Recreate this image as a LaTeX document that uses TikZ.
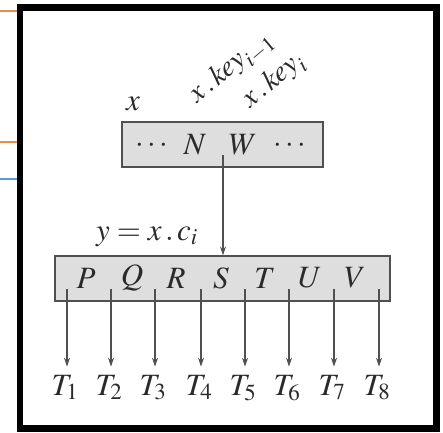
\documentclass[tikz,border=0pt]{standalone}
\usepackage{mathptmx}
\usetikzlibrary{arrows.meta}
\definecolor{boxfill}{HTML}{DEDEDE}
\definecolor{boxline}{HTML}{505050}
\definecolor{inkc}{HTML}{2A2A2A}
\definecolor{orangeln}{HTML}{F08A3C}
\definecolor{blueln}{HTML}{5B9BD5}
\tikzset{
  keybox/.style={draw=boxline, fill=boxfill, line width=1.3pt, inner sep=0pt, minimum height=45pt},
  lbl/.style={inner sep=0pt, text=inkc, font=\fontsize{31}{36}\selectfont},
  rlbl/.style={lbl, font=\fontsize{29}{34}\selectfont, anchor=base west, rotate=40},
  ptr/.style={draw=boxline, line width=1.2pt, -{Stealth[length=9pt,width=6pt]}},
}
\begin{document}
\begin{tikzpicture}[x=1pt,y=-1pt]
\useasboundingbox (0,0) rectangle (443,432);
\fill[white] (0,0) rectangle (443,432);
% side marks
\draw[orangeln, line width=1.6pt] (0,11) -- (17,11);
\draw[orangeln, line width=1.6pt] (0,142) -- (17,142);
\draw[blueln, line width=1.6pt] (0,179) -- (17,179);
% frame
\draw[black, line width=6.5pt] (20,7.5) rectangle (436.5,428.5);
% boxes
\node[keybox, minimum width=201pt] (top) at (222.5,144.5) {};
\node[keybox, minimum width=335pt] (bot) at (222.5,278.5) {};
% top box content
\node[lbl] (d1) at (152,146) {$\cdots$};
\node[lbl] (n) at (195,145) {$N$};
\node[lbl] (w) at (243,145) {$W$};
\node[lbl] (d2) at (290,146) {$\cdots$};
% labels above
\node[lbl, anchor=base] (xl) at (133,110) {$x$};
\node[rlbl] (k1) at (197,104) {$x\,.\,\mathit{key}_{i-1}$};
\node[rlbl] (k2) at (250,109) {$x\,.\,\mathit{key}_{i}$};
% y label
\node[lbl, anchor=base] (yl) at (147,240) {$y = x\,.\,c_i$};
% arrow between boxes
\coordinate (a) at (223,155);
\draw[ptr] (a) -- (a |- bot.north);
% keys in bottom box
\foreach \L/\X in {P/86,Q/132,R/176,S/221,T/265,U/310,V/355}{
  \node[lbl] (k\L) at (\X,278) {$\L$};
}
% child pointers
\foreach \i/\X in {1/67,2/111,3/155,4/201,5/245,6/289,7/334,8/379}{
  \coordinate (c\i) at (\X,289);
  \node[lbl, anchor=base] (t\i) at (\X-2,395) {$T_{\i}$};
  \draw[ptr, shorten >=8pt] (c\i) -- (c\i |- t\i.north);
}
\end{tikzpicture}
\end{document}
